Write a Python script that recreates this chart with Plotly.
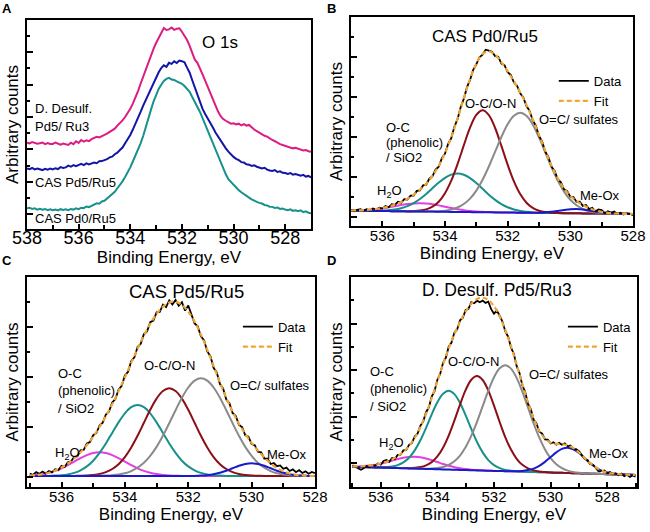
import numpy as np
import plotly.graph_objects as go

# ---------------- Panel A: O 1s spectra of the three samples ----------------
be_a = np.round(np.linspace(538.0, 527.0, 111), 1)

a_desulf = [
    41.3, 41.0, 41.6, 41.2, 40.8, 41.0, 41.4, 40.6, 41.1, 40.7,
    40.7, 41.4, 41.0, 40.4, 40.9, 40.5, 40.2, 41.3, 40.6, 42.0,
    41.2, 42.6, 41.8, 42.4, 42.0, 43.0, 43.4, 44.1, 43.8, 44.6,
    45.0, 45.6, 46.4, 47.2, 48.0, 49.5, 50.6, 52.0, 53.6, 55.4,
    57.5, 60.0, 62.8, 66.0, 69.5, 73.0, 76.2, 79.6, 83.0, 86.2,
    89.0, 91.4, 94.0, 96.2, 95.2, 95.5, 96.4, 95.3, 95.8, 96.0,
    94.4, 92.6, 90.4, 87.6, 84.4, 81.0, 79.5, 77.0, 74.0, 71.0,
    68.0, 64.6, 61.4, 58.6, 56.2, 54.0, 52.6, 51.8, 51.0, 50.4,
    50.6, 50.0, 50.4, 49.6, 50.2, 49.5, 49.8, 48.6, 47.6, 46.8,
    46.0, 45.3, 44.6, 44.2, 43.2, 42.6, 42.0, 41.2, 40.6, 40.2,
    39.7, 39.4, 39.0, 38.6, 38.9, 38.5, 38.0, 37.6, 37.8, 37.2,
    37.0,
]
a_pd5 = [
    29.0, 28.6, 29.2, 28.5, 28.9, 28.6, 28.2, 28.8, 28.4, 28.9,
    28.5, 29.1, 28.7, 29.6, 29.2, 29.5, 30.3, 29.8, 30.6, 30.1,
    30.5, 31.2, 30.6, 31.4, 30.9, 31.2, 31.8, 31.5, 32.4, 32.5,
    33.0, 33.4, 34.3, 34.6, 35.8, 36.5, 37.8, 39.0, 41.0, 42.8,
    45.0, 47.6, 50.2, 53.0, 56.0, 59.0, 61.8, 64.6, 67.3, 70.2,
    72.5, 75.0, 77.0, 78.3, 77.6, 79.5, 79.0, 80.2, 79.4, 80.6,
    80.3, 79.8, 77.2, 74.8, 71.2, 67.5, 64.4, 60.8, 57.5, 55.0,
    53.0, 50.4, 48.6, 46.2, 44.3, 42.0, 40.3, 38.6, 37.0, 35.6,
    34.5, 33.6, 33.0, 32.0, 31.8, 31.0, 30.8, 30.2, 30.5, 29.8,
    29.5, 29.0, 29.3, 28.4, 28.0, 27.8, 28.2, 27.3, 27.6, 26.9,
    26.8, 26.4, 26.8, 26.0, 26.3, 25.8, 25.5, 25.9, 25.1, 25.4,
    24.7,
]
a_pd0 = [
    9.9, 10.2, 9.6, 9.9, 9.3, 9.7, 9.2, 9.6, 9.0, 9.4,
    9.0, 9.3, 8.9, 9.5, 9.1, 9.4, 9.0, 9.6, 9.3, 9.9,
    9.5, 10.2, 10.0, 10.8, 10.5, 11.2, 11.5, 12.3, 12.1, 13.2,
    13.5, 14.6, 15.4, 16.9, 17.8, 19.5, 21.0, 22.8, 24.9, 27.0,
    29.5, 32.3, 35.0, 38.2, 41.0, 44.5, 49.0, 53.0, 57.0, 61.0,
    64.0, 67.0, 69.0, 70.8, 71.8, 72.3, 71.5, 71.3, 70.6, 70.2,
    69.5, 68.4, 67.0, 65.6, 63.2, 61.0, 58.6, 56.0, 53.0, 50.0,
    46.8, 44.0, 41.2, 38.0, 35.0, 32.0, 28.8, 26.2, 23.8, 22.4,
    21.0, 19.8, 18.6, 17.6, 16.6, 15.6, 15.0, 14.2, 13.4, 13.0,
    12.5, 12.2, 11.5, 11.3, 10.7, 10.6, 10.1, 10.3, 9.6, 9.8,
    9.3, 9.0, 9.4, 8.7, 9.0, 8.5, 8.9, 8.1, 8.5, 7.8,
    7.6,
]

# ---------------- Panel B: CAS Pd0/Ru5 ----------------
be_b_fit = np.round(np.linspace(537.0, 528.0, 46), 1)
be_b_data = np.round(np.linspace(537.0, 528.0, 91), 1)

b_data = [
    0.8, -0.6, 0.9, 1.6, 0.2, 1.5, 0.4, 2.3, 1.2, 3.0,
    2.1, 4.6, 3.4, 6.5, 5.8, 8.9, 8.0, 11.6, 11.2, 15.0,
    15.1, 19.8, 20.2, 25.3, 26.1, 32.2, 34.3, 41.2, 44.0, 52.5,
    57.0, 66.8, 72.6, 84.0, 91.5, 103.4, 111.8, 123.3, 130.8, 140.9,
    146.4, 153.5, 156.0, 161.0, 160.2, 159.0, 154.6, 154.0, 147.2, 145.6,
    138.4, 135.8, 128.2, 125.0, 117.4, 113.2, 104.7, 99.9, 90.5, 85.0,
    74.8, 69.3, 59.0, 53.8, 44.0, 39.8, 31.5, 28.4, 21.4, 19.6,
    14.0, 13.5, 8.8, 9.0, 4.8, 5.6, 1.6, 2.9, -0.6, 1.2,
    0.6, -2.5, -0.6, -1.9, -0.9, -3.4, -2.0, -3.8, -2.4, -3.0,
    -4.5,
]
b_base = [
    0.0, -0.1, -0.1, -0.2, -0.3, -0.4, -0.4, -0.5, -0.6, -0.7,
    -0.7, -0.8, -0.9, -0.9, -1.0, -1.1, -1.2, -1.2, -1.3, -1.4,
    -1.5, -1.5, -1.6, -1.7, -1.8, -1.8, -1.9, -2.0, -2.0, -2.1,
    -2.2, -2.3, -2.3, -2.4, -2.5, -2.6, -2.6, -2.7, -2.8, -2.8,
    -2.9, -3.0, -3.1, -3.1, -3.2, -3.3,
]
b_h2o = [
    0.2, 0.4, 0.7, 1.1, 1.8, 2.7, 3.8, 5.0, 6.3, 7.3,
    8.0, 8.3, 8.0, 7.3, 6.3, 5.0, 3.8, 2.7, 1.8, 1.1,
    0.7, 0.4, 0.2, 0.1, 0, 0, 0, 0, 0, 0,
    0, 0, 0, 0, 0, 0, 0, 0, 0, 0,
    0, 0, 0, 0, 0, 0,
]
b_phenolic = [
    0, 0, 0, 0.1, 0.2, 0.4, 0.9, 1.7, 3.1, 5.2,
    8.3, 12.5, 17.6, 23.4, 29.1, 34.0, 37.3, 38.5, 37.3, 34.0,
    29.1, 23.4, 17.6, 12.5, 8.3, 5.2, 3.1, 1.7, 0.9, 0.4,
    0.2, 0.1, 0, 0, 0, 0, 0, 0, 0, 0,
    0, 0, 0, 0, 0, 0,
]
b_ocon = [
    0, 0, 0, 0, 0, 0, 0, 0, 0, 0.1,
    0.3, 0.9, 2.2, 4.9, 10.0, 18.6, 31.2, 47.8, 66.6, 84.4,
    97.3, 102.0, 97.3, 84.4, 66.6, 47.8, 31.2, 18.6, 10.0, 4.9,
    2.2, 0.9, 0.3, 0.1, 0, 0, 0, 0, 0, 0,
    0, 0, 0, 0, 0, 0,
]
b_sulfates = [
    0, 0, 0, 0, 0, 0, 0, 0, 0, 0,
    0, 0, 0.1, 0.2, 0.5, 1.1, 2.3, 4.4, 8.0, 13.5,
    21.6, 32.5, 45.8, 60.7, 75.5, 88.3, 96.9, 100.0, 96.9, 88.3,
    75.5, 60.7, 45.8, 32.5, 21.6, 13.5, 8.0, 4.4, 2.3, 1.1,
    0.5, 0.2, 0.1, 0, 0, 0,
]
b_meox = [
    0, 0, 0, 0, 0, 0, 0, 0, 0, 0,
    0, 0, 0, 0, 0, 0, 0, 0, 0, 0,
    0, 0, 0, 0, 0, 0, 0, 0, 0, 0.1,
    0.2, 0.6, 1.2, 2.1, 3.1, 4.0, 4.3, 4.0, 3.1, 2.1,
    1.2, 0.6, 0.2, 0.1, 0, 0,
]

# ---------------- Panel C: CAS Pd5/Ru5 ----------------
be_c_fit = np.round(np.linspace(537.0, 528.0, 46), 1)
be_c_data = np.round(np.linspace(537.0, 528.0, 91), 1)

c_data = [
    2.5, 1.0, 3.8, 2.1, 4.5, 2.4, 5.0, 3.6, 6.8, 5.9,
    10.2, 9.0, 13.8, 14.6, 19.2, 19.5, 25.6, 26.0, 32.5, 34.0,
    40.8, 43.0, 50.5, 53.2, 61.5, 64.4, 73.5, 77.0, 86.3, 90.2,
    100.5, 104.2, 114.8, 118.6, 129.0, 132.2, 141.9, 144.6, 153.8, 155.5,
    163.6, 164.0, 171.4, 168.9, 175.6, 171.6, 176.0, 170.2, 173.8, 165.4,
    170.5, 160.8, 152.6, 149.8, 139.6, 135.7, 124.6, 119.8, 108.2, 103.5,
    92.0, 87.6, 76.5, 72.9, 63.0, 60.0, 51.1, 48.9, 40.6, 39.3,
    32.0, 30.8, 24.2, 23.6, 17.5, 17.4, 12.0, 13.0, 9.8, 10.5,
    7.2, 8.4, 5.0, 6.6, 3.8, 5.9, 3.0, 4.6, 2.2, 4.0,
    2.8,
]
c_base = [0.0] * 46
c_h2o = [
    0.5, 1.0, 1.9, 3.2, 5.1, 7.7, 10.9, 14.4, 17.9, 20.9,
    23.0, 23.7, 23.0, 20.9, 17.9, 14.4, 10.9, 7.7, 5.1, 3.2,
    1.9, 1.0, 0.5, 0.3, 0.1, 0, 0, 0, 0, 0,
    0, 0, 0, 0, 0, 0, 0, 0, 0, 0,
    0, 0, 0, 0, 0, 0,
]
c_phenolic = [
    0, 0, 0, 0.1, 0.4, 0.8, 1.6, 3.1, 5.7, 9.6,
    15.3, 23.1, 32.5, 43.1, 53.6, 62.7, 68.8, 71.0, 68.8, 62.7,
    53.6, 43.1, 32.5, 23.1, 15.3, 9.6, 5.7, 3.1, 1.6, 0.8,
    0.4, 0.1, 0, 0, 0, 0, 0, 0, 0, 0,
    0, 0, 0, 0, 0, 0,
]
c_ocon = [
    0, 0, 0, 0, 0, 0, 0, 0.1, 0.2, 0.4,
    1.0, 2.0, 3.9, 7.0, 11.8, 18.9, 28.5, 40.2, 53.2, 66.2,
    77.4, 85.0, 87.7, 85.0, 77.4, 66.2, 53.2, 40.2, 28.5, 18.9,
    11.8, 7.0, 3.9, 2.0, 1.0, 0.4, 0.2, 0.1, 0, 0,
    0, 0, 0, 0, 0, 0,
]
c_sulfates = [
    0, 0, 0, 0, 0, 0, 0, 0, 0, 0,
    0.1, 0.2, 0.4, 0.8, 1.5, 2.7, 4.9, 8.3, 13.2, 20.1,
    29.1, 40.2, 52.8, 65.8, 78.3, 88.5, 95.4, 97.7, 95.4, 88.5,
    78.3, 65.8, 52.8, 40.2, 29.1, 20.1, 13.2, 8.3, 4.9, 2.7,
    1.5, 0.8, 0.4, 0.2, 0.1, 0,
]
c_meox = [
    0, 0, 0, 0, 0, 0, 0, 0, 0, 0,
    0, 0, 0, 0, 0, 0, 0, 0, 0, 0,
    0, 0, 0, 0, 0, 0, 0.1, 0.4, 0.8, 1.7,
    3.2, 5.2, 7.7, 10.2, 12.0, 12.7, 12.0, 10.2, 7.7, 5.2,
    3.2, 1.7, 0.8, 0.4, 0.1, 0,
]

# ---------------- Panel D: D. Desulf. Pd5/Ru3 ----------------
be_d_fit = np.round(np.linspace(537.0, 527.0, 51), 1)
be_d_data = np.round(np.linspace(537.0, 527.0, 101), 1)

d_data = [
    1.5, 0.2, -1.8, -3.0, -1.5, 0.6, -0.4, 1.8, 0.9, 3.2,
    2.0, 5.6, 6.8, 5.0, 8.6, 7.8, 11.8, 12.0, 16.3, 16.8,
    21.9, 23.5, 30.2, 33.0, 41.0, 45.1, 54.5, 59.4, 70.2, 75.6,
    87.0, 92.7, 103.9, 109.0, 120.0, 124.2, 134.1, 137.5, 146.4, 149.0,
    156.8, 158.0, 164.6, 163.4, 166.0, 164.5, 166.2, 163.8, 165.0, 157.5,
    153.0, 156.2, 151.0, 145.0, 135.2, 130.0, 119.2, 112.8, 100.6, 93.8,
    81.4, 74.8, 63.1, 57.6, 47.0, 43.2, 35.0, 33.1, 27.2, 27.0,
    23.2, 24.5, 22.0, 23.8, 21.9, 23.4, 20.4, 21.2, 17.8, 17.5,
    15.6, 12.2, 7.9, 6.8, 2.6, 2.0, -1.9, -4.8, -4.5, -3.8,
    -6.5, -5.4, -7.8, -6.5, -8.6, -7.0, -9.4, -8.1, -10.2, -8.8,
    -10.0,
]
d_base = [
    0.0, -0.2, -0.3, -0.5, -0.7, -0.8, -1.0, -1.2, -1.3, -1.5,
    -1.7, -1.8, -2.0, -2.2, -2.3, -2.5, -2.7, -2.8, -3.0, -3.2,
    -3.3, -3.5, -3.7, -3.8, -4.0, -4.2, -4.3, -4.5, -4.6, -4.8,
    -5.0, -5.1, -5.3, -5.5, -5.6, -5.8, -6.0, -6.1, -6.3, -6.5,
    -6.6, -6.8, -7.0, -7.1, -7.3, -7.5, -7.6, -7.8, -8.0, -8.1,
    -8.3,
]
d_h2o = [
    0.3, 0.5, 0.9, 1.6, 2.5, 3.8, 5.4, 7.2, 8.9, 10.4,
    11.4, 11.8, 11.4, 10.4, 8.9, 7.2, 5.4, 3.8, 2.5, 1.6,
    0.9, 0.5, 0.3, 0.1, 0, 0, 0, 0, 0, 0,
    0, 0, 0, 0, 0, 0, 0, 0, 0, 0,
    0, 0, 0, 0, 0, 0, 0, 0, 0, 0,
    0,
]
d_phenolic = [
    0, 0, 0, 0, 0.1, 0.2, 0.6, 1.3, 2.9, 5.8,
    10.6, 18.1, 28.4, 41.0, 54.6, 66.9, 75.6, 78.8, 75.6, 66.9,
    54.6, 41.0, 28.4, 18.1, 10.6, 5.8, 2.9, 1.3, 0.6, 0.2,
    0.1, 0, 0, 0, 0, 0, 0, 0, 0, 0,
    0, 0, 0, 0, 0, 0, 0, 0, 0, 0,
    0,
]
d_ocon = [
    0, 0, 0, 0, 0, 0, 0, 0, 0, 0.1,
    0.3, 0.7, 1.6, 3.5, 6.9, 12.7, 21.7, 33.9, 49.0, 65.3,
    80.1, 90.5, 94.3, 90.5, 80.1, 65.3, 49.0, 33.9, 21.7, 12.7,
    6.9, 3.5, 1.6, 0.7, 0.3, 0.1, 0, 0, 0, 0,
    0, 0, 0, 0, 0, 0, 0, 0, 0, 0,
    0,
]
d_sulfates = [
    0, 0, 0, 0, 0, 0, 0, 0, 0, 0,
    0, 0, 0.1, 0.2, 0.5, 1.2, 2.4, 4.7, 8.5, 14.3,
    22.9, 34.5, 48.5, 64.3, 80.0, 93.6, 102.7, 106.0, 102.7, 93.6,
    80.0, 64.3, 48.5, 34.5, 22.9, 14.3, 8.5, 4.7, 2.4, 1.2,
    0.5, 0.2, 0.1, 0, 0, 0, 0, 0, 0, 0,
    0,
]
d_meox = [
    0, 0, 0, 0, 0, 0, 0, 0, 0, 0,
    0, 0, 0, 0, 0, 0, 0, 0, 0, 0,
    0, 0, 0, 0, 0, 0, 0, 0, 0.1, 0.3,
    0.7, 1.7, 3.4, 6.3, 10.4, 15.4, 20.3, 23.9, 25.3, 23.9,
    20.3, 15.4, 10.4, 6.3, 3.4, 1.7, 0.7, 0.3, 0.1, 0,
    0,
]

# component colours (same for every fitted panel)
C_H2O = "#e23ee2"
C_PHEN = "#17908b"
C_OCON = "#8c0f16"
C_SULF = "#8a8a8a"
C_MEOX = "#1a1acc"
C_FIT = "#f2a531"

FONT = "Liberation Sans, Arial, sans-serif"

fig = go.Figure()

# panel A curves
for vals, color in [(a_desulf, "#dc1c80"), (a_pd5, "#1414a6"), (a_pd0, "#17918a")]:
    fig.add_trace(go.Scatter(x=be_a, y=vals, mode="lines", showlegend=False,
                             line=dict(color=color, width=2), xaxis="x", yaxis="y"))


def add_fit_panel(n, be_fit, be_data, data, base, comps, legend):
    xa, ya = f"x{n}", f"y{n}"
    base = np.array(base, dtype=float)
    fig.add_trace(go.Scatter(x=be_fit, y=base, mode="lines", showlegend=False,
                             line=dict(color="#c6c6c6", width=1.5), xaxis=xa, yaxis=ya))
    total = base.copy()
    for vals, color in comps:
        vals = np.array(vals, dtype=float)
        total = total + vals
        fig.add_trace(go.Scatter(x=be_fit, y=base + vals, mode="lines", showlegend=False,
                                 line=dict(color=color, width=2, shape="spline"),
                                 xaxis=xa, yaxis=ya))
    fig.add_trace(go.Scatter(x=be_data, y=data, mode="lines", name="Data", legend=legend,
                             line=dict(color="black", width=1.8), xaxis=xa, yaxis=ya))
    # the fit is the envelope: baseline plus all the components
    fig.add_trace(go.Scatter(x=be_fit, y=total, mode="lines", name="Fit", legend=legend,
                             line=dict(color=C_FIT, width=2.2, dash="5px,3px", shape="spline"),
                             xaxis=xa, yaxis=ya))


add_fit_panel(2, be_b_fit, be_b_data, b_data, b_base,
              [(b_h2o, C_H2O), (b_phenolic, C_PHEN), (b_ocon, C_OCON),
               (b_sulfates, C_SULF), (b_meox, C_MEOX)], "legend")
add_fit_panel(3, be_c_fit, be_c_data, c_data, c_base,
              [(c_h2o, C_H2O), (c_phenolic, C_PHEN), (c_ocon, C_OCON),
               (c_sulfates, C_SULF), (c_meox, C_MEOX)], "legend2")
add_fit_panel(4, be_d_fit, be_d_data, d_data, d_base,
              [(d_h2o, C_H2O), (d_phenolic, C_PHEN), (d_ocon, C_OCON),
               (d_sulfates, C_SULF), (d_meox, C_MEOX)], "legend3")


def x_axis(domain, anchor, rng, tick_size, label_shift):
    return dict(domain=domain, anchor=anchor, range=rng, showline=True, linecolor="black",
                linewidth=2, mirror=True, ticks="inside", ticklen=5, tickwidth=1.5,
                tickcolor="black", tick0=528, dtick=2, showgrid=False, zeroline=False,
                minor=dict(ticks="inside", tick0=528, dtick=1, ticklen=4, tickwidth=1.5,
                           tickcolor="black", showgrid=False),
                tickfont=dict(size=tick_size), ticklabelstandoff=label_shift,
                automargin=False,
                title=dict(text="Binding Energy, eV", font=dict(size=17), standoff=0))


def y_axis(domain, anchor, rng, tick0, dtick):
    return dict(domain=domain, anchor=anchor, range=rng, showline=True, linecolor="black",
                linewidth=2, mirror=True, ticks="inside", ticklen=6, tickwidth=1.5,
                tickcolor="black", tick0=tick0, dtick=dtick, showticklabels=False,
                showgrid=False, zeroline=False, automargin=False,
                minor=dict(ticks="inside", tick0=tick0, dtick=dtick / 2, ticklen=3,
                           tickwidth=1.5, tickcolor="black", showgrid=False),
                title=dict(text="Arbitrary counts", font=dict(size=17), standoff=2))


legend_style = dict(xanchor="left", yanchor="top", bgcolor="rgba(0,0,0,0)",
                    font=dict(size=13), tracegroupgap=0, itemwidth=30)

fig.update_layout(
    width=650, height=532,
    margin=dict(l=0, r=0, t=0, b=0),
    plot_bgcolor="white", paper_bgcolor="white",
    font=dict(family=FONT, color="black"),
    xaxis=x_axis([0.0415, 0.4785], "y", [538, 527], 18, -9),
    yaxis=y_axis([0.5695, 0.9624], "x", [0, 100], 22.6, 15.5),
    xaxis2=x_axis([0.54, 0.9738], "y2", [537, 528], 15, -5),
    yaxis2=y_axis([0.5752, 0.968], "x2", [-15.3, 193.7], -6, 40),
    xaxis3=x_axis([0.0415, 0.4846], "y3", [537.09, 528], 15, -5),
    yaxis3=y_axis([0.0846, 0.4793], "x3", [-11, 199], -0.7, 50),
    xaxis4=x_axis([0.54, 0.98], "y4", [537.05, 526.95], 15, -5),
    yaxis4=y_axis([0.0846, 0.4793], "x4", [-20.3, 189.7], 3.4, 46.6),
    legend=dict(x=0.852, y=0.876, **legend_style),
    legend2=dict(x=0.366, y=0.414, **legend_style),
    legend3=dict(x=0.866, y=0.414, **legend_style),
)

annotations = []


def label(n, text, x, y, size=13, anchor="left"):
    ref = "" if n == 1 else str(n)
    annotations.append(dict(text=text, x=x, y=y, xref="x" + ref, yref="y" + ref,
                            xanchor=anchor, yanchor="middle", showarrow=False,
                            font=dict(size=size)))


# panel A texts
label(1, "O 1s", 530.53, 89, 17, "center")
label(1, "D. Desulf.", 537.77, 57.8)
label(1, "Pd5/ Ru3", 537.77, 49)
label(1, "CAS Pd5/Ru5", 537.77, 22.2)
label(1, "CAS Pd0/Ru5", 537.77, 5.0)

# fitted panels texts
label(2, "CAS Pd0/Ru5", 532.71, 174, 17, "center")
label(2, "O-C/O-N", 532.55, 107.4, 13, "center")
label(2, "O=C/ sulfates", 531.05, 91.4)
label(2, "O-C", 535.94, 83.4)
label(2, "(phenolic)", 535.94, 68.4)
label(2, "/ SiO2", 535.94, 53.4)
label(2, "H<sub>2</sub>O", 536.23, 19)
label(2, "Me-Ox", 529.76, 15)

label(3, "CAS Pd5/Ru5", 532.05, 184.3, 18.5, "center")
label(3, "O-C/O-N", 532.58, 111, 13, "center")
label(3, "O=C/ sulfates", 530.76, 91)
label(3, "O-C", 536.16, 102.7)
label(3, "(phenolic)", 536.16, 85.3)
label(3, "/ SiO2", 536.16, 67.7)
label(3, "H<sub>2</sub>O", 536.27, 22.7)
label(3, "Me-Ox", 529.58, 21.7)

label(4, "D. Desulf. Pd5/Ru3", 531.91, 176.7, 17.5, "center")
label(4, "O-C/O-N", 532.71, 105, 13, "center")
label(4, "O=C/ sulfates", 530.85, 92.7)
label(4, "O-C", 536.44, 95.7)
label(4, "(phenolic)", 536.44, 78.4)
label(4, "/ SiO2", 536.44, 60.7)
label(4, "H<sub>2</sub>O", 536.14, 23.4)
label(4, "Me-Ox", 528.71, 13.4)

# panel letters
for letter, px, py in [("A", 7, 8), ("B", 331, 8), ("C", 7, 260), ("D", 331, 260)]:
    annotations.append(dict(text=f"<b>{letter}</b>", x=px / 650, y=1 - py / 532,
                            xref="paper", yref="paper", xanchor="center", yanchor="middle",
                            showarrow=False, font=dict(size=13, family="Liberation Sans, Arial")))

fig.update_layout(annotations=annotations)

# the page's default body margin would shift the 650x532 figure
fig.write_html("out.html", config={"displayModeBar": False},
               post_script="document.body.style.margin = '0px';")
